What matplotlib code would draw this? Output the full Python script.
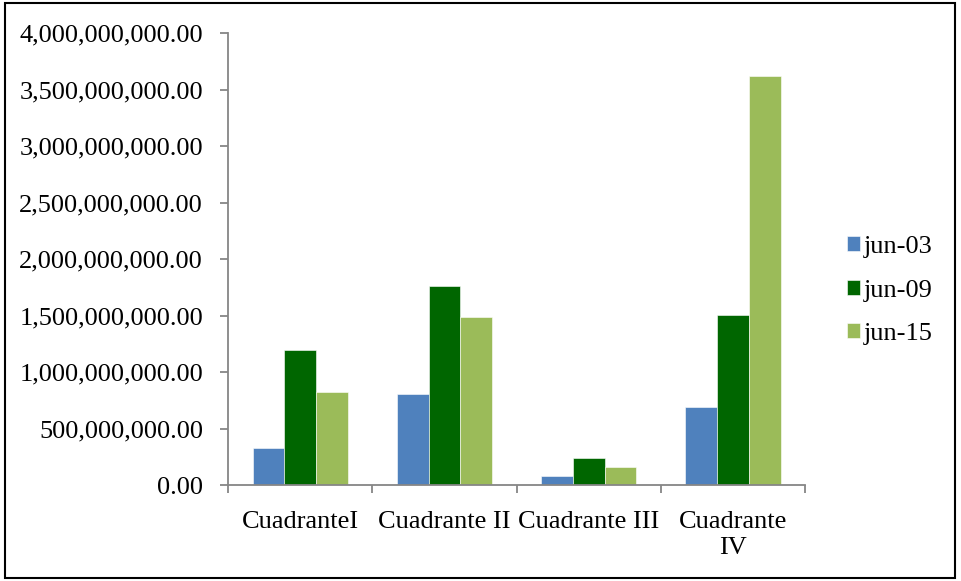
import matplotlib
matplotlib.use("Agg")
import matplotlib.pyplot as plt
import numpy as np
from matplotlib.ticker import FuncFormatter, FixedLocator
from matplotlib.patches import Rectangle

categories = ["CuadranteI", "Cuadrante II", "Cuadrante III", "Cuadrante\nIV"]
series_names = ["jun-03", "jun-09", "jun-15"]
jun03 = [332e6, 808e6, 79e6, 688e6]
jun09 = [1199e6, 1764e6, 238e6, 1505e6]
jun15 = [823e6, 1484e6, 159e6, 3618e6]
colors = ["#4F81BD", "#006600", "#9BBB59"]

plt.rcParams["font.family"] = ["Liberation Serif", "DejaVu Serif"]
AXIS_GRAY = "#868686"

fig = plt.figure(figsize=(9.61, 5.81), dpi=100)
ax = fig.add_axes([0.2373, 0.1652, 0.6004, 0.778])

x = np.arange(len(categories))
w = 0.22
for i, (vals, name) in enumerate(zip([jun03, jun09, jun15], series_names)):
    ax.bar(x + (i - 1) * w, vals, width=w, color=colors[i], label=name,
           edgecolor="white", linewidth=0.4, zorder=2)

ax.set_xlim(-0.5, len(categories) - 0.5)
ax.set_ylim(0, 4e9)
ax.set_yticks(np.arange(0, 4.01e9, 5e8))
ax.yaxis.set_major_formatter(FuncFormatter(lambda v, p: f"{v:,.2f}"))

ax.set_xticks(x)
ax.set_xticklabels(categories, linespacing=1.2)
ax.xaxis.set_minor_locator(FixedLocator(np.arange(-0.5, len(categories), 1.0)))
ax.tick_params(axis="x", which="major", length=0, pad=19, labelsize=19)
ax.tick_params(axis="x", which="minor", length=6, width=1.3, color=AXIS_GRAY,
               direction="out")
ax.tick_params(axis="y", length=6, width=1.3, color=AXIS_GRAY, direction="out",
               pad=12, labelsize=19)

for side in ("top", "right"):
    ax.spines[side].set_visible(False)
for side in ("left", "bottom"):
    ax.spines[side].set_color(AXIS_GRAY)
    ax.spines[side].set_linewidth(1.3)

leg = ax.legend(loc="center left", bbox_to_anchor=(1.04, 0.43), frameon=False,
                fontsize=19, handlelength=0.5, handleheight=0.5,
                handletextpad=0.15, labelspacing=0.82, borderaxespad=0.3)

# outer frame around the whole chart
fig.patches.append(Rectangle((0.005, 0.006), 0.989, 0.988, transform=fig.transFigure,
                             fill=False, edgecolor="black", linewidth=1.5))

fig.savefig("out.png", dpi=100)
